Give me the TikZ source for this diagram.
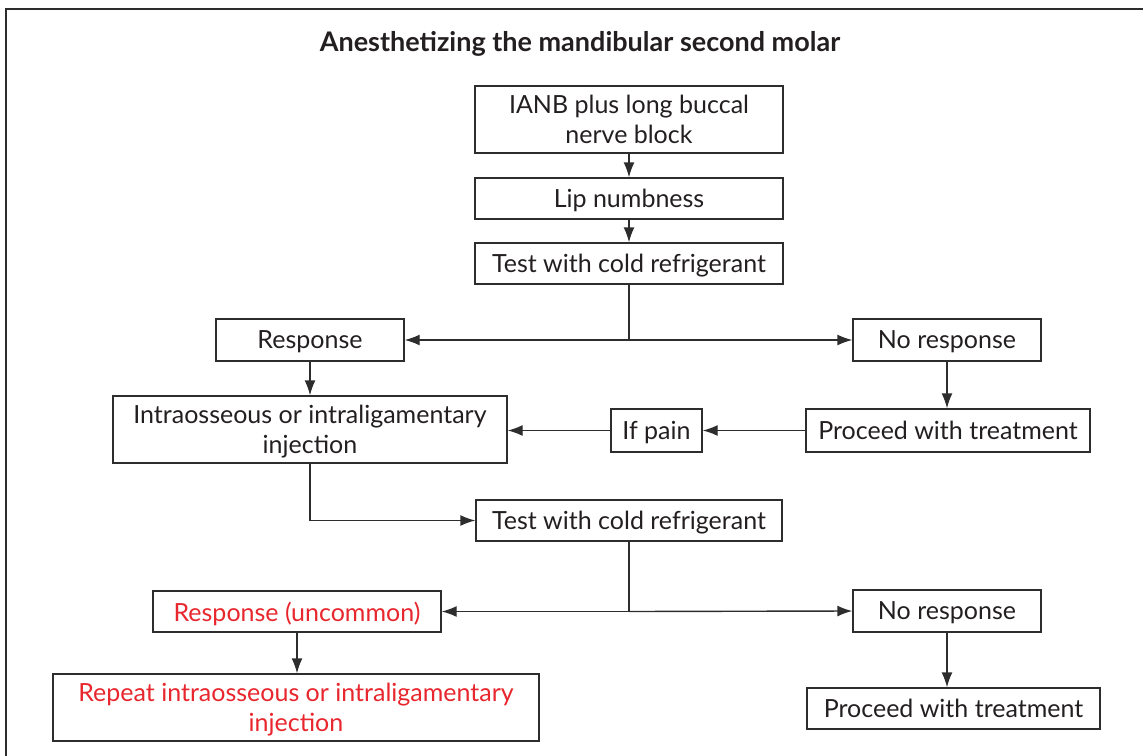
\documentclass[tikz,border=0pt]{standalone}
\usepackage{fontspec}
\setmainfont{Lato}
\usetikzlibrary{arrows.meta}
\definecolor{linegray}{RGB}{45,45,45}
\definecolor{txtgray}{RGB}{35,31,32}
\definecolor{redtxt}{RGB}{232,38,45}
\tikzset{
  box/.style={draw=linegray, line width=1.4pt, inner sep=0pt, align=center,
    font=\fontsize{25}{29.5}\selectfont, text=txtgray, anchor=center, text depth=0pt},
  redbox/.style={box, text=redtxt},
  conn/.style={draw=linegray, line width=1.4pt},
  arr/.style={conn, -{Latex[length=15pt,width=11pt]}},
  frameline/.style={draw=linegray, line width=1.6pt}
}
\begin{document}
\begin{tikzpicture}[x=1pt,y=-1pt]
\useasboundingbox (0,0) rectangle (1143,755);
\coordinate (fb) at (6,756);
\coordinate (fc) at (6,9);
\coordinate (fr) at (1144,9);
\draw[frameline] (fb) -- (fc) -- (fr);
\node[font=\bfseries\fontsize{27}{30}\selectfont, text=txtgray] (title) at (580,44) {Anesthetizing the mandibular second molar};
\node[box, minimum width=308pt, minimum height=67pt] (t1) at (629,119.5) {IANB plus long buccal\\nerve block};
\node[box, minimum width=308pt, minimum height=41pt] (t2) at (629,198.5) {Lip numbness};
\node[box, minimum width=308pt, minimum height=41pt] (t3) at (629,263.5) {Test with cold refrigerant};
\node[box, minimum width=188pt, minimum height=42pt] (r1) at (310,340) {Response};
\node[box, minimum width=188pt, minimum height=42pt] (n1) at (947,340) {No response};
\node[box, minimum width=394pt, minimum height=67pt] (io) at (310,429.5) {Intraosseous or intraligamentary\\injection};
\node[box, minimum width=91pt, minimum height=43pt] (ip) at (656.5,430.5) {If pain};
\node[box, minimum width=284pt, minimum height=43pt] (p1) at (948,430.5) {Proceed with treatment};
\node[box, minimum width=306pt, minimum height=41pt] (t4) at (629,520.5) {Test with cold refrigerant};
\node[redbox, minimum width=288pt, minimum height=41pt] (r2) at (297,611.5) {Response (uncommon)};
\node[box, minimum width=188pt, minimum height=42pt] (n2) at (947,611) {No response};
\node[redbox, minimum width=486pt, minimum height=67pt] (rp) at (296,707.5) {Repeat intraosseous or intraligamentary\\injection};
\node[box, minimum width=293pt, minimum height=41pt] (p2) at (953.5,708.5) {Proceed with treatment};
\draw[arr] (t1) -- (t2);
\draw[arr] (t2) -- (t3);
\coordinate (j1) at (t3.south |- r1.east);
\draw[conn] (t3.south) -- (j1);
\draw[arr] (j1) -- (r1.east);
\draw[arr] (j1) -- (n1.west);
\draw[arr] (r1.south) -- (r1.south |- io.north);
\draw[arr] (n1.south) -- (n1.south |- p1.north);
\draw[arr] (p1.west) -- (p1.west -| ip.east);
\draw[arr] (ip.west) -- (ip.west -| io.east);
\coordinate (j2) at (io.south |- t4.west);
\draw[arr] (io.south) -- (j2) -- (t4.west);
\coordinate (j3) at (t4.south |- r2.east);
\draw[conn] (t4.south) -- (j3);
\draw[arr] (j3) -- (r2.east);
\draw[arr] (j3) -- (n2.west);
\draw[arr] (r2.south) -- (r2.south |- rp.north);
\draw[arr] (n2.south) -- (n2.south |- p2.north);
\end{tikzpicture}
\end{document}
